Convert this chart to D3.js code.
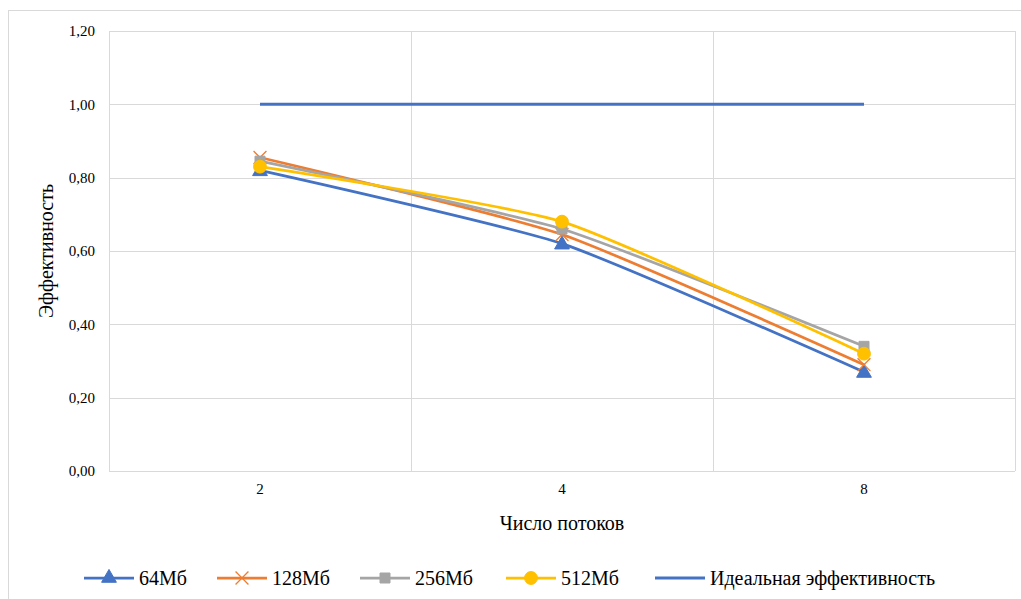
<!DOCTYPE html>
<html>
<head>
<meta charset="utf-8">
<script src="https://cdn.jsdelivr.net/npm/d3@7"></script>
<style>
    body { margin: 0; background: #fff; }
    svg text { font-family: "Times New Roman", "Liberation Serif", "DejaVu Serif", "Noto Serif", serif; fill: #000; }
</style>
</head>
<body>
<div id="chart"></div>
<script>
// data
var threads = ["2", "4", "8"];
var seriesNames = ["64Мб", "128Мб", "256Мб", "512Мб"];
var mb64 = [0.82, 0.62, 0.27];
var mb128 = [0.855, 0.645, 0.29];
var mb256 = [0.845, 0.66, 0.34];
var mb512 = [0.83, 0.68, 0.32];
var ideal = [1, 1, 1];
var yTicks = [0, 0.2, 0.4, 0.6, 0.8, 1.0, 1.2];

var svgWidth = 1021;
var svgHeight = 599;

// plot area
var plot = { left: 109, right: 1015, top: 31, bottom: 471 };

var svg = d3.select("#chart")
    .append("svg")
    .attr("width", svgWidth)
    .attr("height", svgHeight);

// outer chart frame
svg.append("rect")
    .attr("x", 8.5)
    .attr("y", 10.5)
    .attr("width", 1030)
    .attr("height", 600)
    .attr("fill", "none")
    .attr("stroke", "#d9d9d9");

var xScale = d3.scaleBand()
    .domain(threads)
    .range([plot.left, plot.right])
    .padding(0);

var yScale = d3.scaleLinear()
    .domain([0, 1.2])
    .range([plot.bottom, plot.top]);

var fmt = function(v) { return d3.format(".2f")(v).replace(".", ","); };

// horizontal grid
svg.append("g")
    .selectAll("line")
    .data(yTicks)
    .enter()
    .append("line")
    .attr("x1", plot.left)
    .attr("x2", plot.right)
    .attr("y1", d => Math.round(yScale(d)) + 0.5)
    .attr("y2", d => Math.round(yScale(d)) + 0.5)
    .attr("stroke", "#d9d9d9")
    .attr("stroke-width", 1);

// vertical grid at category boundaries
var bounds = threads.map(t => xScale(t)).concat([plot.right]);
svg.append("g")
    .selectAll("line")
    .data(bounds)
    .enter()
    .append("line")
    .attr("x1", d => Math.round(d) + 0.5)
    .attr("x2", d => Math.round(d) + 0.5)
    .attr("y1", plot.top)
    .attr("y2", plot.bottom)
    .attr("stroke", "#d9d9d9")
    .attr("stroke-width", 1);

// y axis labels
var leftAxis = d3.axisLeft(yScale)
    .tickValues(yTicks)
    .tickFormat(fmt)
    .tickSize(0)
    .tickPadding(14);

var yAxis = svg.append("g")
    .attr("transform", `translate(${plot.left}, 0)`)
    .call(leftAxis);
yAxis.select(".domain").remove();
yAxis.selectAll("text").style("font-size", "15px");

// x axis labels
var bottomAxis = d3.axisBottom(xScale)
    .tickSize(0)
    .tickPadding(12);

var xAxis = svg.append("g")
    .attr("transform", `translate(0, ${plot.bottom})`)
    .call(bottomAxis);
xAxis.select(".domain").remove();
xAxis.selectAll("text").style("font-size", "15px");

// axis titles
svg.append("text")
    .attr("x", (plot.left + plot.right) / 2)
    .attr("y", 530)
    .attr("text-anchor", "middle")
    .style("font-size", "20px")
    .text("Число потоков");

svg.append("text")
    .attr("transform", `translate(53, ${(plot.top + plot.bottom) / 2}) rotate(-90)`)
    .attr("text-anchor", "middle")
    .style("font-size", "20px")
    .text("Эффективность");

var colors = ["#4472C4", "#ED7D31", "#A5A5A5", "#FFC000"];
var symbols = [d3.symbolTriangle, d3.symbolX, d3.symbolSquare, d3.symbolCircle];
var symSizes = [95, 110, 100, 130];
var seriesData = [mb64, mb128, mb256, mb512];

var cx = function(i) { return xScale(threads[i]) + xScale.bandwidth() / 2; };

var line = d3.line()
    .x((d, i) => cx(i))
    .y(d => yScale(d))
    .curve(d3.curveCardinal.tension(0.45));

// ideal line
svg.append("path")
    .datum(ideal)
    .attr("d", d3.line().x((d, i) => cx(i)).y(d => yScale(d)))
    .attr("fill", "none")
    .attr("stroke", "#4472C4")
    .attr("stroke-width", 3);

function drawMarker(g, k, x, y) {
    var p = g.append("path")
        .attr("d", d3.symbol().type(symbols[k]).size(symSizes[k])())
        .attr("transform", `translate(${x}, ${y})`);
    if (k === 1) {
        p.attr("fill", "none").attr("stroke", colors[k]).attr("stroke-width", 1.3);
    } else {
        p.attr("fill", colors[k]).attr("stroke", colors[k]).attr("stroke-width", 1);
    }
}

// series
seriesData.forEach(function(vals, k) {
    var g = svg.append("g");
    g.append("path")
        .datum(vals)
        .attr("d", line)
        .attr("fill", "none")
        .attr("stroke", colors[k])
        .attr("stroke-width", 2.75)
        .attr("stroke-linecap", "round");
    vals.forEach(function(v, i) {
        drawMarker(g, k, cx(i), yScale(v) + (k === 0 ? 1 : 0));
    });
});

// legend
var legendY = 578;
var legendItems = [
    { name: seriesNames[0], x: 84, k: 0 },
    { name: seriesNames[1], x: 217, k: 1 },
    { name: seriesNames[2], x: 360, k: 2 },
    { name: seriesNames[3], x: 506, k: 3 },
    { name: "Идеальная эффективность", x: 655, k: -1 }
];

legendItems.forEach(function(it) {
    var g = svg.append("g");
    var col = it.k < 0 ? "#4472C4" : colors[it.k];
    g.append("line")
        .attr("x1", it.x)
        .attr("x2", it.x + 50)
        .attr("y1", legendY)
        .attr("y2", legendY)
        .attr("stroke", col)
        .attr("stroke-width", it.k < 0 ? 3 : 2.75);
    if (it.k >= 0) drawMarker(g, it.k, it.x + 25, legendY);
    g.append("text")
        .attr("x", it.x + 55)
        .attr("y", legendY + 7)
        .style("font-size", "20px")
        .text(it.name);
});
</script>
</body>
</html>
